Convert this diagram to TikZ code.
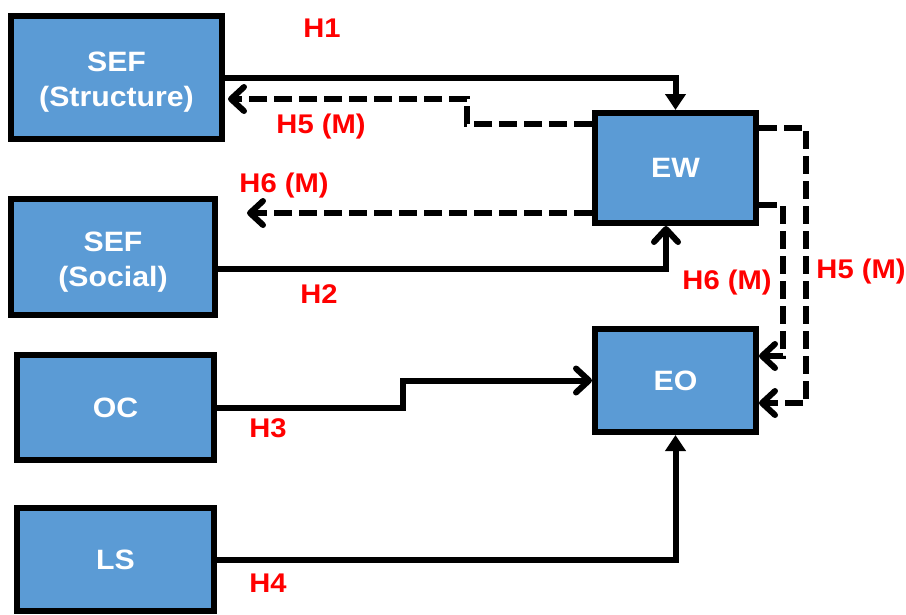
\documentclass[tikz,border=0pt]{standalone}
\usepackage{fontspec}
\setmainfont{Liberation Sans}
\newfontfamily\boxfont[FakeStretch=1.08]{Liberation Sans}
\newfontfamily\labfont[FakeStretch=1.08]{Liberation Sans}
\usetikzlibrary{arrows.meta,calc}
\definecolor{boxblue}{HTML}{5B9BD5}
\definecolor{labred}{HTML}{FF0000}
\newcommand{\lowered}[1]{\raisebox{-4.5pt}[\height][\depth]{#1}}
\begin{document}
\begin{tikzpicture}[x=1pt,y=-1pt,
 box/.style={draw=black,fill=boxblue,line width=6pt,inner sep=0pt,text=white,
   font=\boxfont\fontsize{28}{35}\selectfont\bfseries,align=center},
 lab/.style={text=labred,font=\labfont\fontsize{27}{30}\selectfont\bfseries,inner sep=0pt},
 conn/.style={line width=6pt},
 solidtri/.style={conn,-{Triangle[length=16pt,width=20pt]}},
 solidopen/.style={conn,-{Straight Barb[length=13pt,width=24pt,round]}},
 dasharr/.style={conn,dash pattern=on 18pt off 7pt,-{Straight Barb[length=13pt,width=24pt,round]}}]
\useasboundingbox (0,0) rectangle (906,614);

\node[box,minimum width=211pt,minimum height=123pt] (sefA) at (116.5,77.5) {\lowered{\begin{tabular}{@{}c@{}}SEF\\(Structure)\end{tabular}}};
\node[box,minimum width=204pt,minimum height=116pt] (sefB) at (113,257) {\lowered{\begin{tabular}{@{}c@{}}SEF\\(Social)\end{tabular}}};
\node[box,minimum width=197pt,minimum height=105pt] (oc) at (115.5,407.5) {OC};
\node[box,minimum width=197pt,minimum height=103pt] (ls) at (115.5,559.5) {LS};
\node[box,minimum width=161pt,minimum height=110pt] (ew) at (675.5,168) {EW};
\node[box,minimum width=161pt,minimum height=103pt] (eo) at (675.5,380.5) {EO};

\coordinate (h5turn) at (467,99);
\coordinate (h6end) at (247,213);
\coordinate (h3step) at (403,407.5);
\coordinate (h6r) at (783,205);
\coordinate (h5r) at (806,128);

% H1
\draw[solidtri] (sefA.east) -| (ew.north);
% H2
\draw[solidopen] ([yshift=-12pt]sefB.east) -| ([xshift=-9.5pt]ew.south);
% H3
\draw[solidopen] (oc.east) -- (h3step) |- (eo.west);
% H4
\draw[solidtri] (ls.east) -| (eo.south);
% H5 (M) to SEF Structure
\draw[dasharr,shorten >=3pt] ([yshift=44pt]ew.west) -| (h5turn) -- (sefA.east |- h5turn);
% H6 (M) toward SEF Social
\draw[dasharr] ([yshift=-45pt]ew.west) -- (h6end);
% H6 (M) to EO
\draw[dasharr] ([yshift=-37pt]ew.east) -- (h6r) |- ([yshift=24.5pt]eo.east);
% H5 (M) to EO
\draw[dasharr] ([yshift=40pt]ew.east) -- (h5r) |- ([yshift=-22.5pt]eo.east);

\node[lab] (lH1) at (322,28) {H1};
\node[lab] (lH5a) at (321,127) {H5 (M)};
\node[lab] (lH6a) at (284,186) {H6 (M)};
\node[lab] (lH2) at (319,294) {H2};
\node[lab] (lH3) at (268,428) {H3};
\node[lab] (lH4) at (268,583) {H4};
\node[lab] (lH6b) at (727,283) {H6 (M)};
\node[lab] (lH5b) at (861,272) {H5 (M)};
\end{tikzpicture}
\end{document}
